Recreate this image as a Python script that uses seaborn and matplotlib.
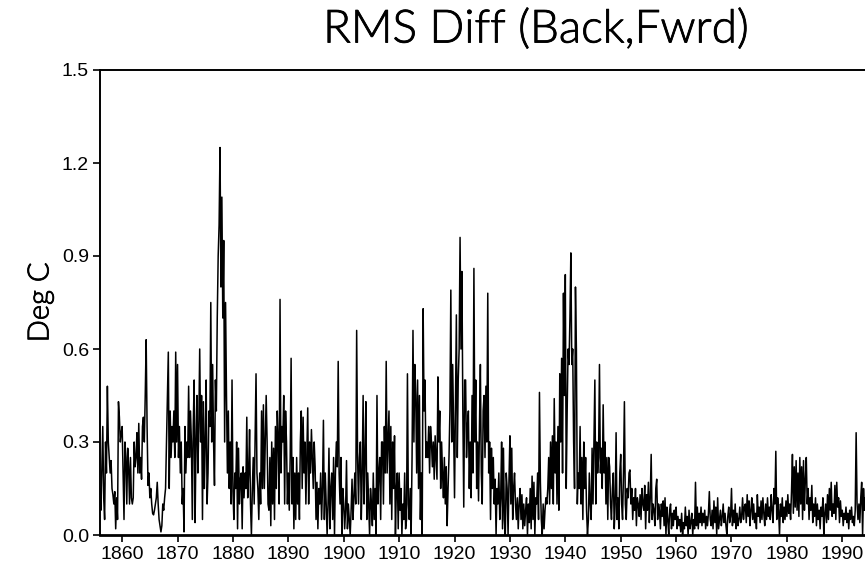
import numpy as np
import pandas as pd
import matplotlib
matplotlib.use("Agg")
import matplotlib.pyplot as plt
import matplotlib.patheffects as pe
import seaborn as sns

# ── Data: RMS difference, 6 readings per year, one list per decade ─────
# (Deg C)
rms_1856 = [0.15, 0.08, 0.22, 0.35, 0.12, 0.05,
            0.30, 0.20, 0.48, 0.30, 0.25, 0.20,
            0.24, 0.15, 0.13, 0.10, 0.14, 0.02,
            0.12, 0.05, 0.43, 0.38, 0.30, 0.33]
rms_1860 = [0.35, 0.20, 0.05, 0.30, 0.25, 0.10,
            0.28, 0.22, 0.10, 0.25, 0.12, 0.10,
            0.12, 0.30, 0.22, 0.25, 0.33, 0.20,
            0.36, 0.20, 0.25, 0.18, 0.35, 0.38,
            0.30, 0.45, 0.63, 0.35, 0.16, 0.20,
            0.12, 0.15, 0.10, 0.07, 0.065, 0.08,
            0.10, 0.12, 0.17, 0.10, 0.05, 0.03,
            0.01, 0.03, 0.10, 0.08, 0.12, 0.15,
            0.30, 0.45, 0.59, 0.15, 0.40, 0.25,
            0.35, 0.30, 0.40, 0.25, 0.59, 0.30]
rms_1870 = [0.55, 0.25, 0.35, 0.20, 0.30, 0.10,
            0.15, 0.01, 0.35, 0.20, 0.30, 0.25,
            0.48, 0.25, 0.40, 0.30, 0.05, 0.35,
            0.50, 0.04, 0.30, 0.45, 0.20, 0.35,
            0.60, 0.30, 0.45, 0.05, 0.43, 0.15,
            0.30, 0.50, 0.10, 0.20, 0.40, 0.35,
            0.75, 0.30, 0.55, 0.30, 0.16, 0.50,
            0.40, 0.70, 0.90, 1.00, 1.25, 0.80,
            1.09, 0.70, 0.95, 0.30, 0.75, 0.45,
            0.20, 0.40, 0.15, 0.30, 0.10, 0.50]
rms_1880 = [0.14, 0.05, 0.20, 0.15, 0.30, 0.02,
            0.28, 0.10, 0.18, 0.20, 0.02, 0.22,
            0.12, 0.20, 0.15, 0.38, 0.12, 0.20,
            0.34, 0.10, 0.00, 0.15, 0.25, 0.10,
            0.30, 0.52, 0.20, 0.15, 0.05, 0.20,
            0.10, 0.40, 0.15, 0.42, 0.15, 0.30,
            0.45, 0.30, 0.10, 0.08, 0.25, 0.03,
            0.30, 0.10, 0.28, 0.05, 0.35, 0.15,
            0.40, 0.30, 0.10, 0.76, 0.20, 0.35,
            0.30, 0.45, 0.10, 0.40, 0.30, 0.10]
rms_1890 = [0.20, 0.08, 0.25, 0.57, 0.10, 0.25,
            0.02, 0.20, 0.05, 0.25, 0.10, 0.20,
            0.05, 0.30, 0.40, 0.15, 0.38, 0.20,
            0.30, 0.10, 0.25, 0.41, 0.10, 0.30,
            0.20, 0.34, 0.25, 0.15, 0.30, 0.22,
            0.05, 0.17, 0.02, 0.15, 0.10, 0.20,
            0.05, 0.15, 0.37, 0.05, 0.20, 0.10,
            0.00, 0.10, 0.28, 0.02, 0.15, 0.20,
            0.05, 0.25, 0.00, 0.20, 0.30, 0.22,
            0.56, 0.20, 0.10, 0.25, 0.00, 0.15]
rms_1900 = [0.10, 0.02, 0.08, 0.24, 0.02, 0.10,
            0.05, 0.00, 0.08, 0.18, 0.05, 0.12,
            0.20, 0.10, 0.66, 0.25, 0.10, 0.25,
            0.30, 0.05, 0.20, 0.45, 0.10, 0.25,
            0.43, 0.05, 0.20, 0.10, 0.00, 0.15,
            0.10, 0.03, 0.20, 0.05, 0.15, 0.00,
            0.45, 0.10, 0.20, 0.25, 0.05, 0.30,
            0.30, 0.10, 0.35, 0.20, 0.56, 0.20,
            0.30, 0.40, 0.10, 0.35, 0.05, 0.30,
            0.15, 0.32, 0.00, 0.15, 0.20, 0.02]
rms_1910 = [0.20, 0.08, 0.15, 0.00, 0.10, 0.05,
            0.20, 0.02, 0.05, 0.52, 0.10, 0.05,
            0.15, 0.00, 0.25, 0.66, 0.30, 0.55,
            0.45, 0.20, 0.50, 0.15, 0.45, 0.05,
            0.20, 0.00, 0.73, 0.40, 0.50, 0.25,
            0.30, 0.25, 0.35, 0.20, 0.35, 0.30,
            0.22, 0.30, 0.18, 0.32, 0.25, 0.18,
            0.51, 0.30, 0.40, 0.15, 0.30, 0.20,
            0.12, 0.25, 0.10, 0.22, 0.03, 0.15,
            0.25, 0.40, 0.79, 0.30, 0.55, 0.35]
rms_1920 = [0.12, 0.40, 0.71, 0.25, 0.50, 0.60,
            0.96, 0.60, 0.85, 0.40, 0.09, 0.50,
            0.50, 0.25, 0.35, 0.40, 0.15, 0.30,
            0.12, 0.45, 0.20, 0.86, 0.30, 0.50,
            0.15, 0.30, 0.11, 0.35, 0.55, 0.20,
            0.10, 0.40, 0.45, 0.25, 0.48, 0.30,
            0.78, 0.20, 0.30, 0.05, 0.28, 0.15,
            0.25, 0.10, 0.18, 0.00, 0.15, 0.10,
            0.20, 0.05, 0.12, 0.30, 0.02, 0.28,
            0.05, 0.00, 0.20, 0.15, 0.00, 0.18]
rms_1930 = [0.32, 0.10, 0.28, 0.05, 0.15, 0.20,
            0.10, 0.05, 0.12, 0.02, 0.10, 0.15,
            0.05, 0.13, 0.02, 0.10, 0.03, 0.08,
            0.12, 0.00, 0.10, 0.04, 0.15, 0.02,
            0.19, 0.05, 0.17, 0.00, 0.12, 0.10,
            0.20, 0.05, 0.46, 0.17, 0.05, 0.00,
            0.10, 0.02, 0.08, 0.12, 0.10, 0.15,
            0.25, 0.10, 0.30, 0.15, 0.32, 0.10,
            0.44, 0.20, 0.30, 0.10, 0.35, 0.08,
            0.52, 0.30, 0.57, 0.20, 0.78, 0.45]
rms_1940 = [0.84, 0.15, 0.40, 0.60, 0.55, 0.70,
            0.91, 0.55, 0.60, 0.30, 0.15, 0.80,
            0.60, 0.10, 0.20, 0.15, 0.35, 0.10,
            0.25, 0.05, 0.30, 0.15, 0.25, 0.08,
            0.00, 0.05, 0.20, 0.10, 0.05, 0.28,
            0.10, 0.30, 0.50, 0.10, 0.30, 0.20,
            0.25, 0.55, 0.20, 0.28, 0.15, 0.42,
            0.20, 0.30, 0.10, 0.25, 0.05, 0.25,
            0.22, 0.10, 0.05, 0.15, 0.20, 0.02,
            0.10, 0.33, 0.05, 0.12, 0.02, 0.20]
rms_1950 = [0.26, 0.10, 0.05, 0.20, 0.43, 0.10,
            0.05, 0.15, 0.12, 0.20, 0.21, 0.10,
            0.15, 0.05, 0.12, 0.08, 0.15, 0.03,
            0.12, 0.10, 0.06, 0.13, 0.05, 0.15,
            0.10, 0.08, 0.16, 0.02, 0.13, 0.08,
            0.17, 0.04, 0.12, 0.26, 0.05, 0.10,
            0.08, 0.03, 0.15, 0.18, 0.05, 0.10,
            0.08, 0.02, 0.10, 0.06, 0.11, 0.03,
            0.12, 0.00, 0.09, 0.05, 0.00, 0.08,
            0.10, 0.02, 0.07, 0.03, 0.08, 0.05]
rms_1960 = [0.09, 0.02, 0.06, 0.03, 0.05, 0.01,
            0.07, 0.00, 0.04, 0.02, 0.09, 0.03,
            0.06, 0.00, 0.08, 0.02, 0.04, 0.07,
            0.00, 0.05, 0.02, 0.17, 0.03, 0.09,
            0.02, 0.07, 0.04, 0.09, 0.03, 0.07,
            0.04, 0.08, 0.02, 0.06, 0.03, 0.07,
            0.14, 0.05, 0.03, 0.08, 0.02, 0.11,
            0.04, 0.09, 0.00, 0.12, 0.02, 0.05,
            0.08, 0.03, 0.06, 0.10, 0.04, 0.07,
            0.03, 0.00, 0.06, 0.09, 0.04, 0.06]
rms_1970 = [0.15, 0.03, 0.08, 0.04, 0.10, 0.02,
            0.07, 0.03, 0.05, 0.09, 0.04, 0.06,
            0.12, 0.05, 0.09, 0.10, 0.04, 0.13,
            0.06, 0.11, 0.03, 0.08, 0.12, 0.05,
            0.10, 0.04, 0.07, 0.02, 0.13, 0.06,
            0.09, 0.04, 0.11, 0.05, 0.12, 0.07,
            0.03, 0.10, 0.05, 0.12, 0.06, 0.09,
            0.05, 0.13, 0.08, 0.04, 0.15, 0.10,
            0.27, 0.05, 0.12, 0.08, 0.00, 0.10,
            0.06, 0.12, 0.04, 0.09, 0.05, 0.11]
rms_1980 = [0.06, 0.13, 0.07, 0.10, 0.05, 0.14,
            0.26, 0.07, 0.22, 0.09, 0.24, 0.08,
            0.20, 0.06, 0.25, 0.10, 0.22, 0.05,
            0.24, 0.08, 0.18, 0.25, 0.10, 0.15,
            0.05, 0.12, 0.08, 0.16, 0.04, 0.10,
            0.06, 0.12, 0.03, 0.10, 0.05, 0.08,
            0.02, 0.09, 0.06, 0.12, 0.00, 0.07,
            0.10, 0.04, 0.13, 0.05, 0.15, 0.08,
            0.17, 0.06, 0.10, 0.07, 0.16, 0.05,
            0.17, 0.09, 0.12, 0.04, 0.11, 0.06]
rms_1990 = [0.08, 0.03, 0.07, 0.05, 0.09, 0.04,
            0.07, 0.02, 0.08, 0.05, 0.09, 0.04,
            0.06, 0.03, 0.08, 0.33, 0.10, 0.05,
            0.10, 0.04, 0.12, 0.17, 0.00, 0.15,
            0.08, 0.12, 0.06]

segments = [(1856, rms_1856), (1860, rms_1860), (1870, rms_1870), (1880, rms_1880),
            (1890, rms_1890), (1900, rms_1900), (1910, rms_1910), (1920, rms_1920),
            (1930, rms_1930), (1940, rms_1940), (1950, rms_1950), (1960, rms_1960),
            (1970, rms_1970), (1980, rms_1980), (1990, rms_1990)]

year_ticks = [1860, 1870, 1880, 1890, 1900, 1910, 1920, 1930, 1940, 1950,
              1960, 1970, 1980, 1990]
deg_ticks = [0.0, 0.3, 0.6, 0.9, 1.2, 1.5]

# ── Build time axis (6 readings per year) ──────────────────────────────
frames = []
for start, vals in segments:
    frames.append(pd.DataFrame({"Year": start + np.arange(len(vals)) / 6.0,
                                "RMS": vals}))
df = pd.concat(frames, ignore_index=True)

# ── Plot ───────────────────────────────────────────────────────────────
sns.set_style("ticks")
plt.rcParams['font.family'] = ['Liberation Sans', 'DejaVu Sans']
plt.rcParams['text.color'] = 'black'

fig = plt.figure(figsize=(8.65, 5.69), dpi=100)
ax = fig.add_axes([100 / 865, 1 - 535 / 569, 1 - 100 / 865, (535 - 70) / 569])

sns.lineplot(data=df, x="Year", y="RMS", color="black", linewidth=1.1,
             estimator=None, sort=False, ax=ax)

ax.set_xlim(1856, 1994.1)
ax.set_ylim(0, 1.5)
ax.set_xticks(year_ticks)
ax.set_xticklabels([str(y) for y in year_ticks])
ax.set_yticks(deg_ticks)
ax.set_yticklabels([f"{v:.1f}" for v in deg_ticks])
ax.tick_params(axis="both", labelsize=14, length=5, width=1.2,
               colors="black", direction="out", pad=3)

for side in ["left", "top"]:
    ax.spines[side].set_linewidth(1.4)
ax.spines["bottom"].set_linewidth(2.0)
ax.spines["right"].set_visible(False)
for side in ["left", "top", "bottom"]:
    ax.spines[side].set_color("black")

# thin, Hershey-like lettering for title and axis label
thin = ['Lato', 'Liberation Sans', 'DejaVu Sans']
ink = [pe.withStroke(linewidth=0.6, foreground="black")]
ax.set_xlabel("")
ax.set_ylabel("Deg C", fontsize=21, labelpad=6, color="black",
              family=thin, fontweight=300, path_effects=ink)

fig.text(536 / 865, 1 - 30 / 569, "RMS Diff (Back,Fwrd)", fontsize=33,
         ha="center", va="center", color="black",
         family=thin, fontweight=300, path_effects=ink)

plt.savefig("out.png", dpi=100)
